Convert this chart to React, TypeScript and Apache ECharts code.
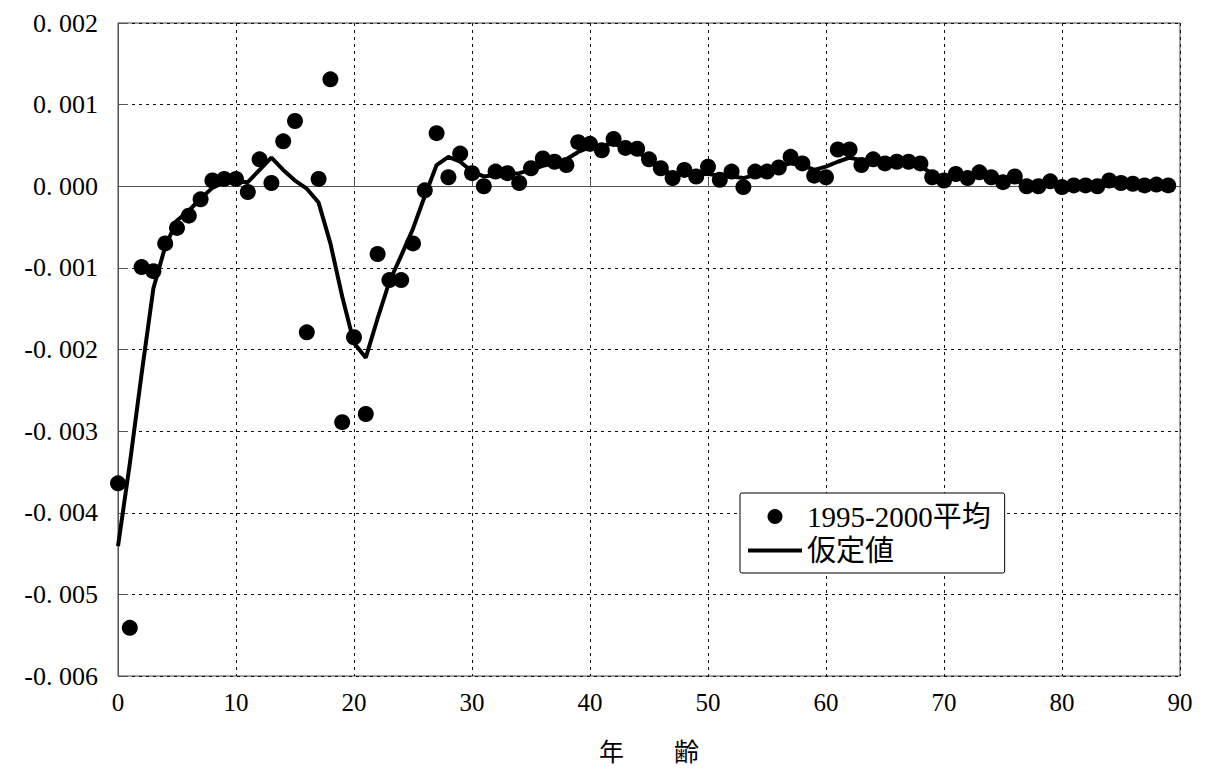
import React, { useEffect, useRef } from "react";
import * as echarts from "echarts";

// Net migration rate by age (ages 0–89)
const observedAvg: number[] = [
  -0.00364, -0.00541, -0.00099, -0.00104, -0.0007, -0.00051, -0.00036, -0.00016, 0.00007, 0.00009,
  0.00009, -0.00007, 0.00033, 0.00004, 0.00055, 0.0008, -0.00179, 0.00009, 0.00131, -0.00289,
  -0.00185, -0.00279, -0.00083, -0.00115, -0.00115, -0.0007, -0.00005, 0.00065, 0.00011, 0.0004,
  0.00016, 0.0, 0.00018, 0.00016, 0.00004, 0.00022, 0.00034, 0.0003, 0.00026, 0.00054,
  0.00052, 0.00044, 0.00058, 0.00047, 0.00046, 0.00033, 0.00022, 0.0001, 0.0002, 0.00012,
  0.00024, 0.00008, 0.00018, -0.00001, 0.00018, 0.00018, 0.00023, 0.00036, 0.00028, 0.00013,
  0.00011, 0.00045, 0.00045, 0.00026, 0.00033, 0.00028, 0.0003, 0.0003, 0.00028, 0.00011,
  0.00007, 0.00015, 0.0001, 0.00017, 0.00011, 0.00005, 0.00012, 0.0, 0.0, 0.00006,
  -0.00001, 0.00001, 0.00001, 0.0, 0.00007, 0.00004, 0.00003, 0.00001, 0.00002, 0.00001,
];

const assumed: number[] = [
  -0.00441, -0.0034, -0.0023, -0.00125, -0.00074, -0.00042, -0.0003, -0.00015, -0.00002, 0.00005,
  0.00006, 0.00005, 0.0002, 0.00035, 0.0002, 0.00007, -0.00003, -0.0002, -0.0007, -0.00135,
  -0.00192, -0.0021, -0.00162, -0.00117, -0.00085, -0.00052, -0.00012, 0.00026, 0.00036, 0.0003,
  0.00018, 0.00012, 0.00014, 0.00015, 0.00016, 0.0002, 0.00025, 0.00028, 0.00033, 0.00042,
  0.00048, 0.0005, 0.00052, 0.00047, 0.00042, 0.00033, 0.00022, 0.00014, 0.00014, 0.00015,
  0.00015, 0.00013, 0.00012, 0.0001, 0.00014, 0.00018, 0.00024, 0.00028, 0.00026, 0.0002,
  0.00024, 0.0003, 0.00035, 0.00032, 0.0003, 0.00029, 0.00029, 0.00028, 0.00025, 0.00015,
  0.0001, 0.00011, 0.00012, 0.00012, 0.0001, 0.00008, 0.00007, 0.00003, 0.00002, 0.00002,
  0.00001, 0.00001, 0.00001, 0.00001, 0.00001, 0.00001, 0.00001, 0.00001, 0.00001, 0.00001,
];

const seriesNames = ["1995-2000平均", "仮定値"];
const xAxisName = "年　　齢";

const SERIF = "'Liberation Serif', 'DejaVu Serif', 'Noto Sans CJK JP', serif";

export default function App() {
  const ref = useRef<HTMLDivElement>(null);

  useEffect(() => {
    document.body.style.margin = "0";
    if (!ref.current) return;
    const chart = echarts.init(ref.current, undefined, { renderer: "svg" });

    const gridLine = { show: true, lineStyle: { color: "#111", width: 1, type: [3, 4] as number[] } };

    chart.setOption({
      animation: false,
      backgroundColor: "#fff",
      grid: {
        left: 118,
        top: 23,
        width: 1062,
        height: 653,
        show: true,
        borderColor: "#444",
        borderWidth: 1,
        backgroundColor: "transparent",
      },
      legend: {
        orient: "vertical",
        left: 740,
        top: 493,
        padding: [9, 14, 8, 8],
        itemGap: 5,
        itemWidth: 54,
        itemHeight: 15,
        backgroundColor: "#fff",
        borderColor: "#000",
        borderWidth: 1,
        borderRadius: 2,
        data: [
          { name: seriesNames[0], icon: "circle", itemStyle: { color: "#000", opacity: 1 } },
          { name: seriesNames[1], icon: "path://M0 0H54V4H0Z", itemStyle: { color: "#000" } },
        ],
        textStyle: { fontFamily: SERIF, fontSize: 29, color: "#000", lineHeight: 28 },
      },
      xAxis: {
        type: "value",
        min: 0,
        max: 90,
        interval: 10,
        name: xAxisName,
        nameLocation: "middle",
        nameGap: 64,
        nameTextStyle: { fontFamily: SERIF, fontSize: 25, color: "#000" },
        axisLine: { show: true, lineStyle: { color: "#555", width: 1 } },
        axisTick: { show: true, inside: true, length: 8, lineStyle: { color: "#555" } },
        axisLabel: { fontFamily: SERIF, fontSize: 25, color: "#000", margin: 14 },
        splitLine: gridLine,
      },
      yAxis: {
        type: "value",
        min: -0.006,
        max: 0.002,
        interval: 0.001,
        axisLine: { show: true, lineStyle: { color: "#555", width: 1 } },
        axisTick: { show: true, inside: true, length: 10, lineStyle: { color: "#555" } },
        axisLabel: {
          fontFamily: SERIF,
          fontSize: 26,
          color: "#000",
          margin: 20,
          formatter: (v: number) => {
            const s = Math.abs(v) < 1e-12 ? "0.000" : v.toFixed(3);
            return s.replace(".", ". ");
          },
        },
        splitLine: gridLine,
      },
      series: [
        {
          name: seriesNames[1],
          type: "line",
          data: assumed.map((v, i) => [i, v]),
          showSymbol: false,
          symbol: "none",
          lineStyle: { color: "#000", width: 4 },
          itemStyle: { color: "#000" },
          z: 2,
        },
        {
          name: seriesNames[0],
          type: "scatter",
          data: observedAvg.map((v, i) => [i, v]),
          symbol: "circle",
          symbolSize: 16,
          itemStyle: { color: "#000", opacity: 1 },
          z: 3,
        },
      ],
    });

    return () => chart.dispose();
  }, []);

  return <div ref={ref} style={{ width: 1209, height: 771 }} />;
}
